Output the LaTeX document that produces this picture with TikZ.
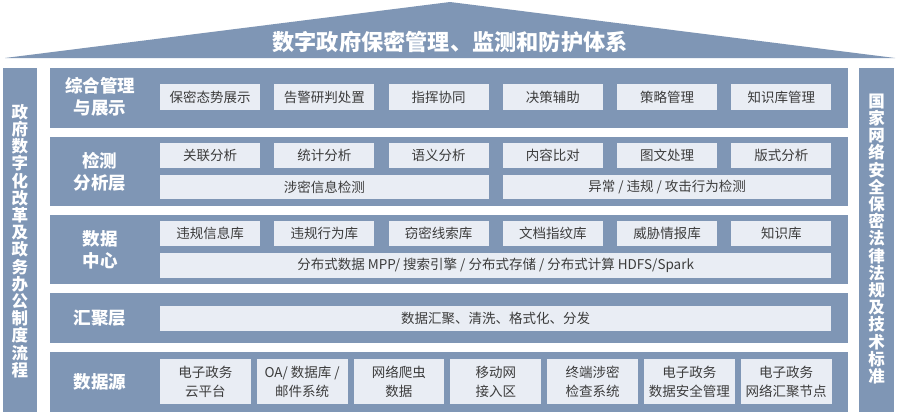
\documentclass[tikz,border=0pt]{standalone}
\usepackage{fontspec}
\setmainfont{Noto Sans CJK SC}
\definecolor{bandc}{HTML}{7F96B5}
\definecolor{cellc}{HTML}{E9EDF4}
\definecolor{inkc}{HTML}{3C3C3C}
\tikzset{
  bandbox/.style={fill=bandc, draw=none},
  cellbox/.style={fill=cellc, draw=none, text=inkc, inner sep=0pt, align=center,
    font=\fontsize{13.5}{19}\selectfont},
  layerlabel/.style={text=white, inner sep=0pt, align=center,
    font=\bfseries\fontsize{17.5}{22}\selectfont},
  pillartext/.style={text=white, inner sep=0pt, align=center,
    font=\bfseries\fontsize{16.5}{17.2}\selectfont},
}
\begin{document}
\begin{tikzpicture}[x=1pt,y=-1pt]
\useasboundingbox[fill=white] (0,0) rectangle (900,415);
% roof
\fill[bandc] (5,58) -- (450,2) -- (895,58) -- cycle;
\node[text=white, inner sep=0pt, font=\bfseries\fontsize{22.2}{26}\selectfont] (title) at (450,41.5) {数字政府保密管理、监测和防护体系};
% pillars
\fill[bandc] (3,68) rectangle (37,412);
\fill[bandc] (859,68) rectangle (894,412);
\node[pillartext] (lp) at (20,241) {政\\府\\数\\字\\化\\改\\革\\及\\政\\务\\办\\公\\制\\度\\流\\程};
\node[pillartext] (rp) at (876.5,239) {国\\家\\网\\络\\安\\全\\保\\密\\法\\律\\法\\规\\及\\技\\术\\标\\准};
% bands
\fill[bandc] (50,68) rectangle (848,128);
\fill[bandc] (50,137) rectangle (848,206);
\fill[bandc] (50,215) rectangle (848,284);
\fill[bandc] (50,293) rectangle (848,343);
\fill[bandc] (50,352) rectangle (848,412);
% labels
\node[layerlabel] (lab1) at (100,97) {综合管理\\与展示};
\node[layerlabel] (lab2) at (100,172) {检测\\分析层};
\node[layerlabel] (lab3) at (100,250) {数据\\中心};
\node[layerlabel] (lab4) at (100,318) {汇聚层};
\node[layerlabel] (lab5) at (100,382) {数据源};
% layer 1
\foreach \t [count=\i from 0] in {保密态势展示,告警研判处置,指挥协同,决策辅助,策略管理,知识库管理}
  \node[cellbox, minimum width=100pt, minimum height=26pt] (a\i) at (210+114.28*\i,97) {\t};
% layer 2
\foreach \t [count=\i from 0] in {关联分析,统计分析,语义分析,内容比对,图文处理,版式分析}
  \node[cellbox, minimum width=100pt, minimum height=25pt] (b\i) at (210+114.28*\i,155.5) {\t};
\node[cellbox, minimum width=328.6pt, minimum height=24pt] (bw1) at (324.3,187) {涉密信息检测};
\node[cellbox, minimum width=328.6pt, minimum height=24pt] (bw2) at (667.1,187) {异常 / 违规 / 攻击行为检测};
% layer 3
\foreach \t [count=\i from 0] in {违规信息库,违规行为库,窃密线索库,文档指纹库,威胁情报库,知识库}
  \node[cellbox, minimum width=100pt, minimum height=25pt] (c\i) at (210+114.28*\i,233.5) {\t};
\node[cellbox, minimum width=671.4pt, minimum height=25pt] (cw) at (495.7,265.5) {分布式数据 MPP/ 搜索引擎 / 分布式存储 / 分布式计算 HDFS/Spark};
% layer 4
\node[cellbox, minimum width=671.4pt, minimum height=25pt] (dw) at (495.7,318.5) {数据汇聚、清洗、格式化、分发};
% layer 5
\foreach \t [count=\i from 0] in {电子政务\\云平台,OA/ 数据库 /\\邮件系统,网络爬虫\\数据,移动网\\接入区,终端涉密\\检查系统,电子政务\\数据安全管理,电子政务\\网络汇聚节点}
  \node[cellbox, minimum width=90.7pt, minimum height=45pt] (e\i) at (205.35+96.8*\i,381.5) {\t};
\end{tikzpicture}
\end{document}
